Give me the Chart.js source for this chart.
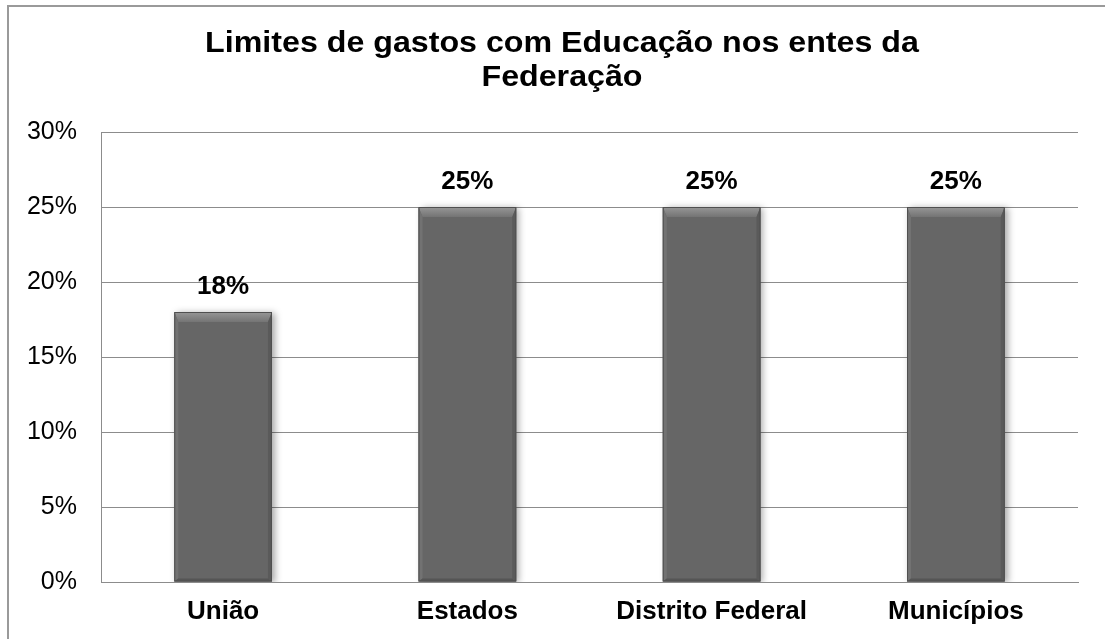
<!DOCTYPE html>
<html lang="pt-BR">
<head>
<meta charset="utf-8">
<title>Limites de gastos com Educação</title>
<script src="https://cdn.jsdelivr.net/npm/chart.js@4/dist/chart.umd.min.js"></script>
<style>
    html, body { margin: 0; padding: 0; background: #fff; }
    #graficoLimitesEducacao { display: block; }
</style>
</head>
<body>
<canvas id="graficoLimitesEducacao" width="1105" height="639"></canvas>
<script>
// ---- dados do gráfico

const entes = ['União', 'Estados', 'Distrito Federal', 'Municípios'];
const limitesGasto = [18, 25, 25, 25]; // em %
const tituloLinhas = ['Limites de gastos com Educação nos entes da', 'Federação'];

const fonteTexto = '"Liberation Sans", Arial, Helvetica, sans-serif';
const corGrade = '#8c8c8c';

// moldura cinza em volta do gráfico + título
const pluginMoldura = {
    id: 'moldura',
    beforeDraw(chart) {
        const c = chart.ctx;
        c.save();
        c.strokeStyle = '#9a9a9a';
        c.lineWidth = 2;
        c.strokeRect(8, 6, chart.width + 10, chart.height + 10);

        // título um pouco esticado na horizontal, como no original
        c.fillStyle = '#000';
        c.font = 'bold 29px ' + fonteTexto;
        c.textAlign = 'center';
        c.textBaseline = 'middle';
        tituloLinhas.forEach((linha, i) => {
            c.save();
            c.translate(562, 44 + i * 34);
            c.scale(1.11, 1);
            c.fillText(linha, 0, 0);
            c.restore();
        });
        c.restore();
    }
};

// sombra leve atrás das barras
const pluginSombra = {
    id: 'sombra',
    beforeDatasetDraw(chart) {
        const c = chart.ctx;
        c.save();
        c.shadowColor = 'rgba(0, 0, 0, 0.35)';
        c.shadowBlur = 7;
        c.shadowOffsetX = 3;
        c.shadowOffsetY = 1;
    },
    afterDatasetDraw(chart) {
        chart.ctx.restore();
    }
};

// bisel nas barras + rótulos de valor
const pluginBisel = {
    id: 'bisel',
    afterDatasetsDraw(chart) {
        const c = chart.ctx;
        const meta = chart.getDatasetMeta(0);
        meta.data.forEach((barra, i) => {
            const esq = barra.x - barra.width / 2;
            const dir = barra.x + barra.width / 2;
            const topo = barra.y;
            const base = barra.base;
            const b = 10; // altura do bisel de cima
            const s = 4;  // largura do bisel dos lados

            c.save();
            // bisel de cima
            const grad = c.createLinearGradient(0, topo, 0, topo + b);
            grad.addColorStop(0, '#979797');
            grad.addColorStop(1, '#747474');
            c.fillStyle = grad;
            c.beginPath();
            c.moveTo(esq, topo);
            c.lineTo(dir, topo);
            c.lineTo(dir - s, topo + b);
            c.lineTo(esq + s, topo + b);
            c.closePath();
            c.fill();

            // bisel esquerdo
            c.fillStyle = '#727272';
            c.beginPath();
            c.moveTo(esq, topo);
            c.lineTo(esq + s, topo + b);
            c.lineTo(esq + s, base - 3);
            c.lineTo(esq, base);
            c.closePath();
            c.fill();

            // bisel direito
            c.fillStyle = '#5a5a5a';
            c.beginPath();
            c.moveTo(dir, topo);
            c.lineTo(dir - s, topo + b);
            c.lineTo(dir - s, base - 3);
            c.lineTo(dir, base);
            c.closePath();
            c.fill();

            // bisel de baixo
            c.fillStyle = '#555555';
            c.beginPath();
            c.moveTo(esq, base);
            c.lineTo(esq + s, base - 3);
            c.lineTo(dir - s, base - 3);
            c.lineTo(dir, base);
            c.closePath();
            c.fill();

            // contorno
            c.strokeStyle = '#505050';
            c.lineWidth = 1;
            c.strokeRect(esq + 0.5, topo + 0.5, barra.width - 1, base - topo - 1);

            // rótulo de valor
            c.fillStyle = '#000';
            c.font = 'bold 26px ' + fonteTexto;
            c.textAlign = 'center';
            c.textBaseline = 'middle';
            c.fillText(limitesGasto[i] + '%', barra.x, topo - 25);
            c.restore();
        });
    }
};

// ---- exibir dados no gráfico

const ctx = document.getElementById('graficoLimitesEducacao').getContext('2d');
let graficoLimitesEducacao = new Chart(ctx, {
    type: 'bar',
    data: {
        labels: entes,
        datasets: [{
            label: 'Limite',
            data: limitesGasto,
            backgroundColor: '#666666',
            borderWidth: 0,
            barPercentage: 0.4,
            categoryPercentage: 1.0
        }]
    },
    options: {
        responsive: false,
        animation: false,
        layout: {
            padding: { left: 0, right: 27, top: 132, bottom: 0 }
        },
        plugins: {
            legend: { display: false },
            tooltip: { enabled: false },
            title: { display: false }
        },
        scales: {
            x: {
                grid: { display: false, drawTicks: false },
                border: { display: true, color: corGrade, width: 1 },
                ticks: {
                    color: '#000',
                    font: { family: fonteTexto, size: 26, weight: 'bold' },
                    padding: 14,
                    maxRotation: 0,
                    autoSkip: false
                },
                afterFit(scale) { scale.height = 57; }
            },
            y: {
                min: 0,
                max: 30,
                grid: { color: corGrade, drawTicks: false },
                border: { display: true, color: corGrade, width: 1 },
                ticks: {
                    stepSize: 5,
                    color: '#000',
                    font: { family: fonteTexto, size: 25 },
                    padding: 24,
                    callback: (valor) => valor + '%'
                },
                afterFit(scale) { scale.width = 101; }
            }
        }
    },
    plugins: [pluginMoldura, pluginSombra, pluginBisel]
});
</script>
</body>
</html>
